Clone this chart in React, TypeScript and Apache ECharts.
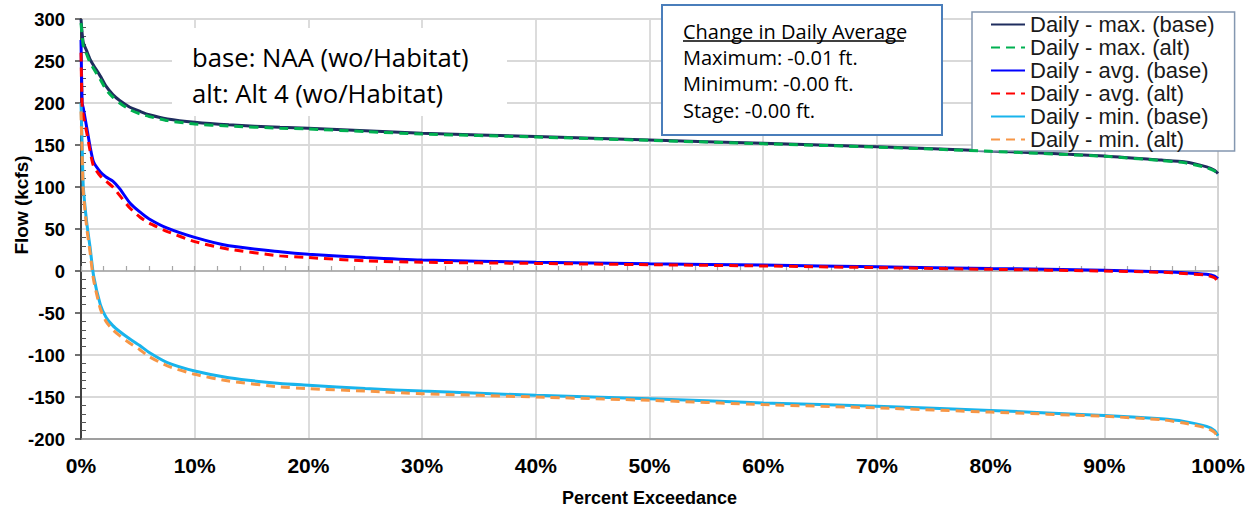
import React, { useEffect, useRef } from "react";
import * as echarts from "echarts";

const pct = [0, 0.1, 0.2, 0.5, 0.8, 1.1, 1.7, 2.2, 2.8, 3.4, 4.3, 5.2, 6, 7.6, 10, 13, 17.5, 20, 25, 30, 40, 50, 60, 70, 80, 90, 95, 97, 99, 99.7, 100];

const maxBase = [300, 283, 272, 262, 252, 245, 232, 220, 210, 203, 195, 190, 186, 181, 177, 174, 171, 170, 167, 164, 160, 156, 152, 148, 143, 137, 132, 130, 124, 120, 116];
const maxAlt = [295, 280, 268, 258, 248, 241, 228, 216, 207, 200, 192, 187, 184, 179, 175, 172.5, 170, 169, 166, 163, 159.5, 155.5, 151.5, 147.5, 142.5, 136.5, 131.5, 129, 123, 119, 115];
const avgBase = [275, 200, 194, 171, 148, 130, 118, 112, 107, 98, 81, 70, 62, 51, 40, 30, 23, 20, 16, 13, 10.5, 8.5, 7, 5, 3, 1, -1, -2, -4, -6, -9];
const avgAlt = [260, 195, 185, 165, 143, 125, 113, 107, 100, 90, 75, 64, 57, 47, 35, 26, 18, 16, 12, 10.5, 9, 7.5, 6, 4, 2, 0, -1.5, -3, -5, -8, -13];
const minBase = [200, 150, 101, 58, 28, -5, -40, -55, -65, -72, -81, -89, -97, -109, -119, -127, -134, -136, -140, -143, -148, -152, -157, -161, -166, -172, -176, -179, -185, -190, -196];
const minAlt = [190, 140, 95, 52, 22, -10, -45, -60, -70, -77, -86, -94, -102, -113, -123, -131, -138, -140, -143, -146, -150, -154, -159, -163, -168, -173, -177, -181, -187, -192, -199];

const seriesNames = [
  "Daily - max. (base)",
  "Daily - max. (alt)",
  "Daily - avg. (base)",
  "Daily - avg. (alt)",
  "Daily - min. (base)",
  "Daily - min. (alt)",
];
const seriesValues = [maxBase, maxAlt, avgBase, avgAlt, minBase, minAlt];
const seriesColors = ["#1f2d5e", "#00b050", "#0000ff", "#ff0000", "#19b4ec", "#f79646"];
const seriesDashed = [false, true, false, true, false, true];

const noteLines = ["base: NAA (wo/Habitat)", "alt: Alt 4 (wo/Habitat)"];
const boxTitle = "Change in Daily Average";
const boxLines = ["Maximum: -0.01 ft.", "Minimum: -0.00 ft.", "Stage: -0.00 ft."];

export default function App() {
  const ref = useRef<HTMLDivElement>(null);
  useEffect(() => {
    if (!ref.current) return;
    const chart = echarts.init(ref.current, null, { renderer: "svg" });
    const series = seriesNames.map((name, i) => ({
      name,
      type: "line",
      xAxisIndex: 0,
      yAxisIndex: 0,
      symbol: "none",
      smooth: 0.2,
      z: 3 + (seriesDashed[i] ? 1 : 0),
      data: pct.map((p, j) => [p, seriesValues[i][j]]),
      lineStyle: {
        color: seriesColors[i],
        width: 3,
        type: seriesDashed[i] ? [9, 6] : "solid",
      },
      itemStyle: { color: seriesColors[i] },
    }));
    const sans = "'Liberation Sans', Arial, sans-serif";
    const note = "'Open Sans', sans-serif";
    chart.setOption({
      animation: false,
      backgroundColor: "#ffffff",
      grid: {
        left: 81,
        right: 39,
        top: 19,
        bottom: 63,
        show: true,
        borderColor: "#8c8c8c",
        borderWidth: 1.5,
        backgroundColor: "transparent",
      },
      xAxis: [
        {
          type: "value",
          min: 0,
          max: 100,
          interval: 10,
          position: "bottom",
          axisLine: { onZero: false, lineStyle: { color: "#8c8c8c", width: 1.5 } },
          axisTick: { show: false },
          axisLabel: {
            formatter: "{value}%",
            fontFamily: sans,
            fontWeight: "bold",
            fontSize: 21,
            color: "#000",
            margin: 16,
          },
          splitLine: { show: true, lineStyle: { color: "#d9d9d9", width: 1.8 } },
          name: "Percent Exceedance",
          nameLocation: "middle",
          nameGap: 50,
          nameTextStyle: { fontFamily: sans, fontWeight: "bold", fontSize: 18, color: "#000" },
        },
        {
          type: "value",
          min: 0,
          max: 100,
          interval: 10,
          position: "top",
          axisLine: { onZero: true, lineStyle: { color: "#a6a6a6", width: 1.5 } },
          axisTick: { show: true, inside: false, length: 5, lineStyle: { color: "#a6a6a6", width: 1.2 } },
          minorTick: { show: true, splitNumber: 5, length: 5, lineStyle: { color: "#a6a6a6", width: 1.2 } },
          axisLabel: { show: false },
          splitLine: { show: false },
        },
      ],
      yAxis: [
        {
          type: "value",
          min: -200,
          max: 300,
          interval: 50,
          axisLine: { show: true, lineStyle: { color: "#404040", width: 2 } },
          axisTick: { show: true, length: 6, lineStyle: { color: "#404040", width: 1.5 } },
          axisLabel: {
            fontFamily: sans,
            fontWeight: "bold",
            fontSize: 18.5,
            color: "#000",
            margin: 16,
          },
          splitLine: { show: true, lineStyle: { color: "#d9d9d9", width: 1.8 } },
        },
        {
          type: "value",
          min: -200,
          max: 300,
          interval: 50,
          position: "left",
          axisLine: { show: false },
          axisTick: { show: false, inside: true },
          minorTick: { show: true, splitNumber: 5, length: 5, lineStyle: { color: "#555", width: 1 } },
          axisLabel: { show: false },
          splitLine: { show: false },
        },
      ],
      legend: {
        orient: "vertical",
        left: 972,
        top: 12,
        itemGap: 0,
        itemWidth: 34,
        itemHeight: 14,
        padding: [1, 20, 0, 18],
        backgroundColor: "#ffffff",
        borderColor: "#8497b0",
        borderWidth: 1.5,
        borderRadius: 0,
        data: seriesNames,
        itemStyle: { opacity: 0, borderWidth: 0 },
        textStyle: { fontFamily: sans, fontSize: 22, color: "#1a1a1a", lineHeight: 23 },
      },
      graphic: [
        {
          type: "rect",
          z: 1,
          shape: { x: 172, y: 28, width: 335, height: 88 },
          style: { fill: "#ffffff" },
        },
        ...noteLines.map((t, i) => ({
          type: "text",
          z: 10,
          x: 192,
          y: 57 + i * 36,
          style: { text: t, fontFamily: note, fontSize: 25.7, fill: "#000", verticalAlign: "middle" },
        })),
        {
          type: "rect",
          z: 10,
          shape: { x: 662, y: 5, width: 280, height: 130 },
          style: { fill: "#ffffff", stroke: "#4a7ebb", lineWidth: 2 },
        },
        {
          type: "text",
          z: 11,
          x: 683,
          y: 31,
          style: { text: boxTitle, fontFamily: note, fontSize: 20, fill: "#000", verticalAlign: "middle" },
        },
        {
          type: "line",
          z: 11,
          shape: { x1: 683, y1: 41, x2: 904, y2: 41 },
          style: { stroke: "#000", lineWidth: 1.5 },
        },
        ...boxLines.map((t, i) => ({
          type: "text",
          z: 11,
          x: 683,
          y: 57 + i * 26.5,
          style: { text: t, fontFamily: note, fontSize: 20, fill: "#000", verticalAlign: "middle" },
        })),
        {
          type: "text",
          z: 11,
          x: 21,
          y: 205,
          rotation: Math.PI / 2,
          style: {
            text: "Flow (kcfs)",
            fontFamily: sans,
            fontWeight: "bold",
            fontSize: 19,
            fill: "#000",
            align: "center",
            verticalAlign: "middle",
          },
        },
      ],
      series,
    });
    return () => chart.dispose();
  }, []);
  return (
    <div
      ref={ref}
      style={{ position: "fixed", left: 0, top: 0, width: 1257, height: 512, background: "#fff" }}
    />
  );
}
